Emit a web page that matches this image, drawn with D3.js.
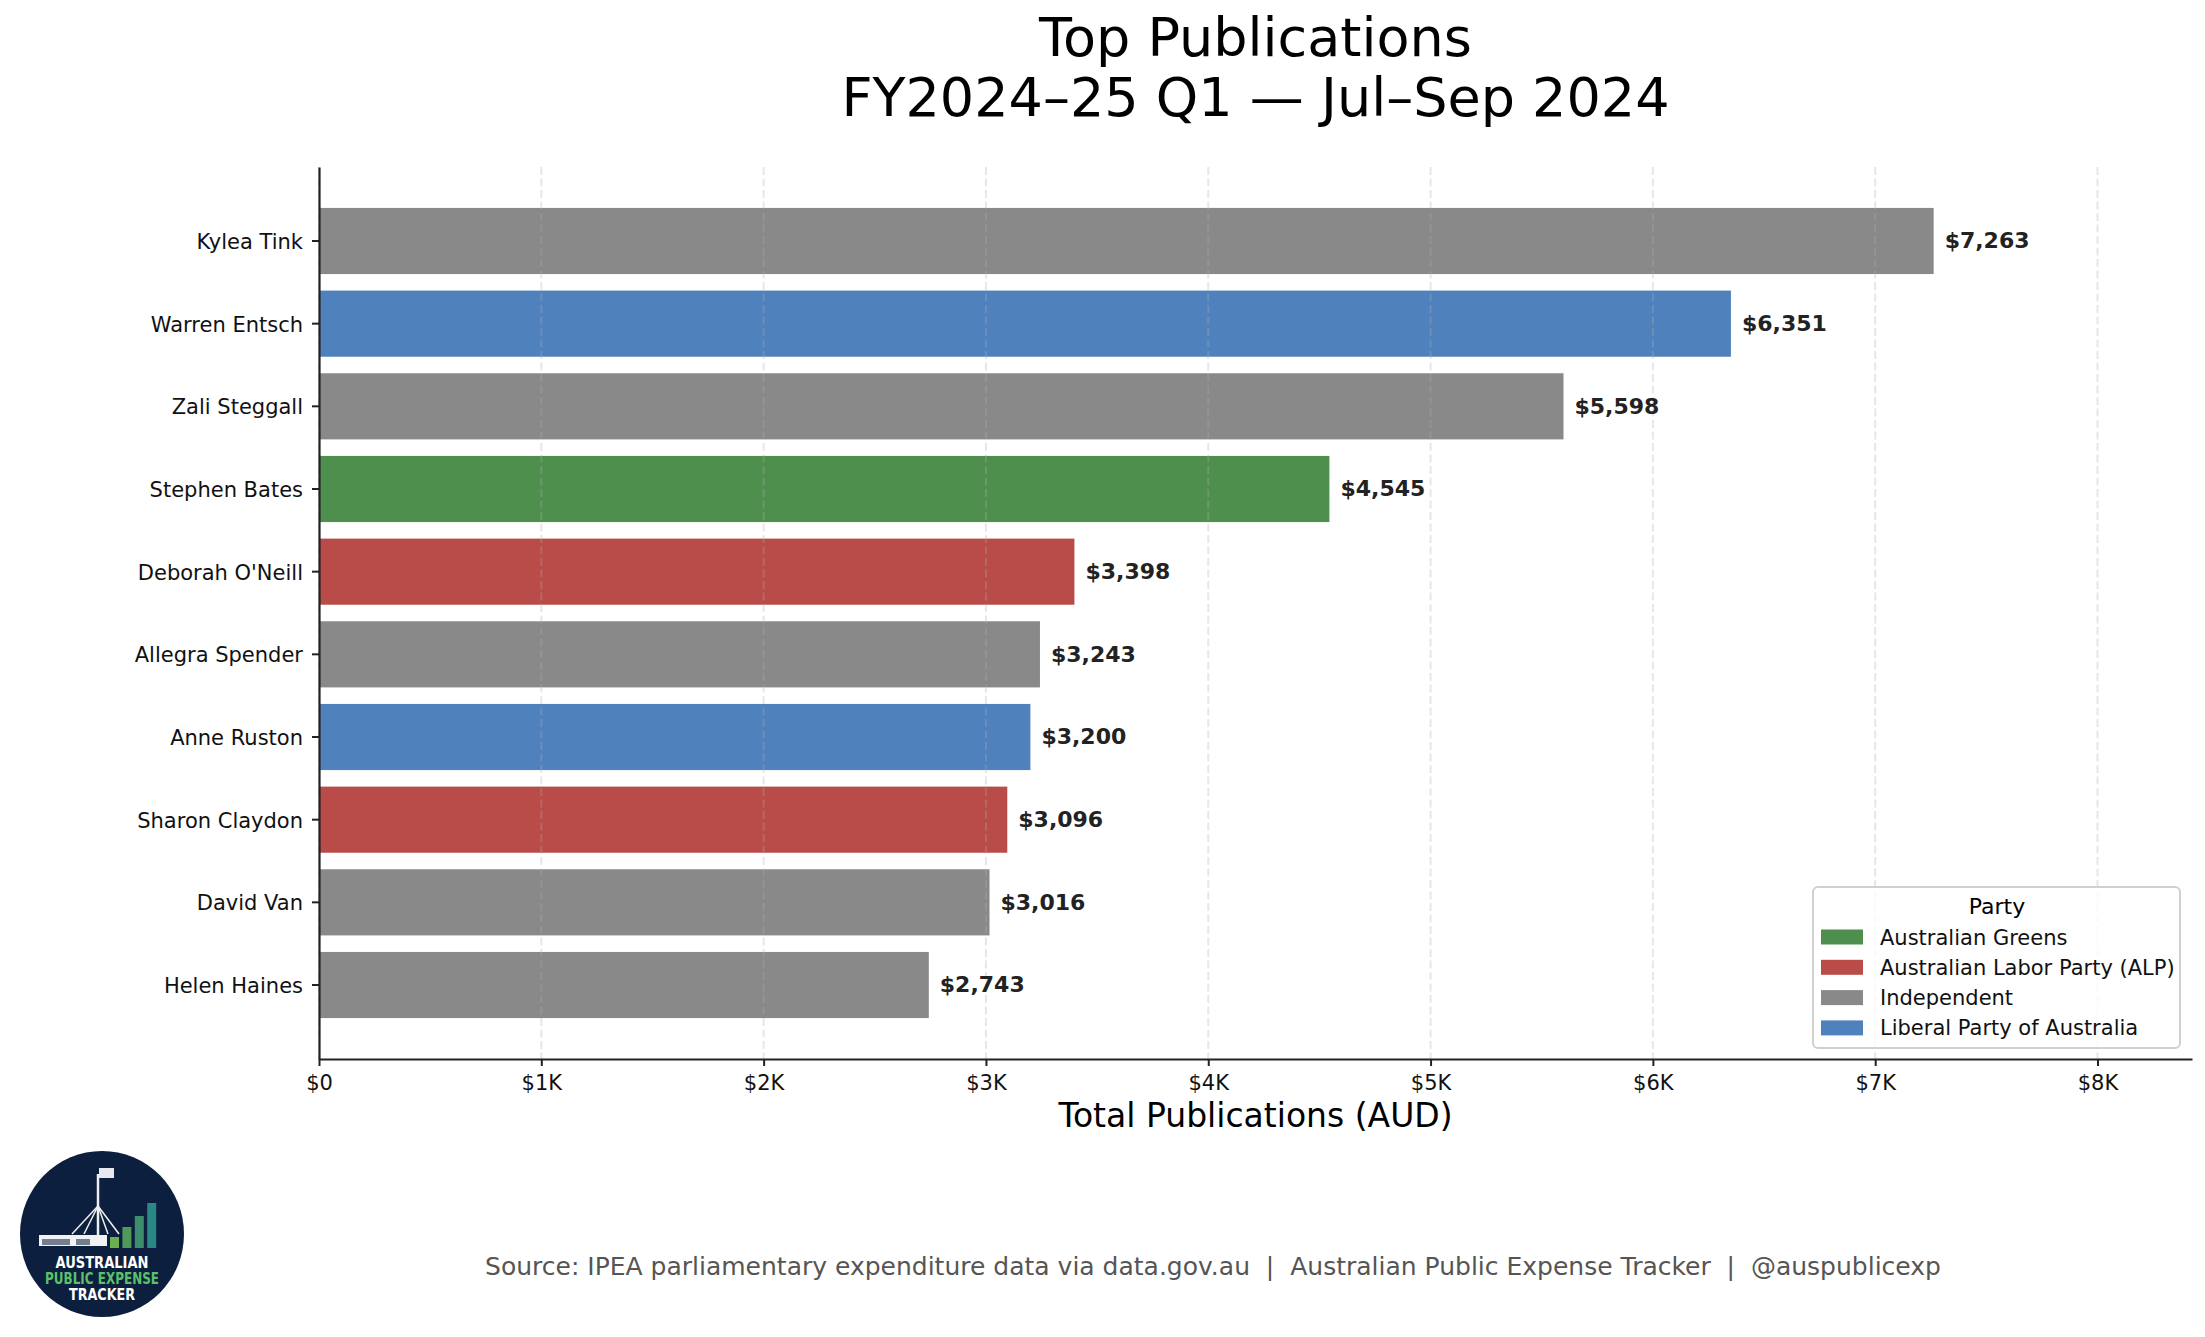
<!DOCTYPE html>
<html>
<head>
<meta charset="utf-8">
<script src="https://cdn.jsdelivr.net/npm/d3@7"></script>
<style>
  body { margin: 0; background: #fff; }
  svg { display: block; font-family: "DejaVu Sans", sans-serif; }
</style>
</head>
<body>
<div id="chart"></div>
<script>
// chart data, top bar first
const members = ["Kylea Tink", "Warren Entsch", "Zali Steggall", "Stephen Bates", "Deborah O'Neill",
                 "Allegra Spender", "Anne Ruston", "Sharon Claydon", "David Van", "Helen Haines"];
const totals = [7263, 6351, 5598, 4545, 3398, 3243, 3200, 3096, 3016, 2743];
const parties = ["Independent", "Liberal Party of Australia", "Independent", "Australian Greens",
                 "Australian Labor Party (ALP)", "Independent", "Liberal Party of Australia",
                 "Australian Labor Party (ALP)", "Independent", "Independent"];
const legendParties = ["Australian Greens", "Australian Labor Party (ALP)", "Independent", "Liberal Party of Australia"];
const partyColours = ["#4e8f4e", "#b94b48", "#898989", "#4f81bc"];
const xTicks = [0, 1000, 2000, 3000, 4000, 5000, 6000, 7000, 8000];
const xTickLabels = ["$0", "$1K", "$2K", "$3K", "$4K", "$5K", "$6K", "$7K", "$8K"];

const W = 2205, H = 1337;
const margin = {top: 167, right: 13, bottom: 278, left: 319};

const svg = d3.select("#chart").append("svg")
    .attr("width", W)
    .attr("height", H);

const rows = members.map((m, i) => ({name: m, value: totals[i], party: parties[i]}));

const x = d3.scaleLinear()
    .domain([0, d3.max(totals) * 1.16])
    .range([margin.left, W - margin.right]);

const y = d3.scaleBand()
    .domain(members)
    .range([margin.top, H - margin.bottom])
    .paddingInner(0.2)
    .paddingOuter(0.495);

const colour = d3.scaleOrdinal().domain(legendParties).range(partyColours);

// bars
svg.append("g").selectAll("rect")
    .data(rows)
    .enter().append("rect")
    .attr("x", x(0))
    .attr("y", d => y(d.name))
    .attr("width", d => x(d.value) - x(0))
    .attr("height", y.bandwidth())
    .attr("fill", d => colour(d.party));

// dashed grid sits over the bars like matplotlib does
svg.append("g").selectAll("line")
    .data(xTicks)
    .enter().append("line")
    .attr("x1", d => x(d)).attr("x2", d => x(d))
    .attr("y1", margin.top).attr("y2", H - margin.bottom)
    .attr("stroke", "#b0b0b0")
    .attr("stroke-opacity", 0.3)
    .attr("stroke-width", 2)
    .attr("stroke-dasharray", "8,3.5");

// value labels
svg.append("g").selectAll("text")
    .data(rows)
    .enter().append("text")
    .attr("x", d => x(d.value) + 11)
    .attr("y", d => y(d.name) + y.bandwidth() / 2)
    .attr("dy", "0.33em")
    .attr("font-size", 22)
    .attr("font-weight", "bold")
    .attr("fill", "#222")
    .text(d => "$" + d3.format(",")(d.value));

// axes
const xAxis = svg.append("g")
    .attr("transform", `translate(0,${H - margin.bottom})`)
    .call(d3.axisBottom(x).tickValues(xTicks)
        .tickFormat((d, i) => xTickLabels[i])
        .tickSize(7).tickSizeOuter(0).tickPadding(9));

const yAxis = svg.append("g")
    .attr("transform", `translate(${margin.left},0)`)
    .call(d3.axisLeft(y).tickSize(7).tickSizeOuter(0).tickPadding(9));

[xAxis, yAxis].forEach(a => {
    a.selectAll("text").attr("font-size", 21).attr("font-family", "DejaVu Sans").attr("fill", "#111");
    a.selectAll("line").attr("stroke", "#222").attr("stroke-width", 2);
    a.select(".domain").attr("stroke", "#222").attr("stroke-width", 2.2);
});
yAxis.selectAll("text").attr("dy", "0.38em");

// titles
const cx = (x.range()[0] + x.range()[1]) / 2;
svg.append("text")
    .attr("x", cx).attr("y", 56)
    .attr("text-anchor", "middle")
    .attr("font-size", 54)
    .text("Top Publications");
svg.append("text")
    .attr("x", cx).attr("y", 116)
    .attr("text-anchor", "middle")
    .attr("font-size", 54)
    .text("FY2024–25 Q1 — Jul–Sep 2024");

svg.append("text")
    .attr("x", cx).attr("y", 1127)
    .attr("text-anchor", "middle")
    .attr("font-size", 33)
    .text("Total Publications (AUD)");

// legend
const lg = svg.append("g").attr("transform", "translate(1813,887)");
lg.append("rect")
    .attr("width", 367).attr("height", 161)
    .attr("rx", 5)
    .attr("fill", "#fff").attr("fill-opacity", 0.8)
    .attr("stroke", "#d0d0d0").attr("stroke-width", 2);
lg.append("text")
    .attr("x", 184).attr("y", 27)
    .attr("text-anchor", "middle")
    .attr("font-size", 22)
    .text("Party");
const items = lg.selectAll(".item")
    .data(legendParties)
    .enter().append("g")
    .attr("class", "item")
    .attr("transform", (d, i) => `translate(0,${50 + i * 30.3})`);
items.append("rect")
    .attr("x", 8).attr("y", -7.5)
    .attr("width", 42).attr("height", 15)
    .attr("fill", d => colour(d));
items.append("text")
    .attr("x", 67).attr("y", 0).attr("dy", "0.36em")
    .attr("font-size", 21)
    .attr("fill", "#111")
    .text(d => d);

// footer source line (keep the double spaces round the bars)
svg.append("text")
    .attr("x", 1213).attr("y", 1275)
    .attr("text-anchor", "middle")
    .attr("font-size", 25)
    .attr("fill", "#555")
    .style("white-space", "pre")
    .text("Source: IPEA parliamentary expenditure data via data.gov.au  |  Australian Public Expense Tracker  |  @auspublicexp");

// logo badge (rough drawing of the tracker emblem)
const logo = svg.append("g").attr("transform", "translate(102,1234)");
logo.append("ellipse").attr("rx", 82).attr("ry", 83).attr("fill", "#0c1f3e");
// parliament house
logo.append("rect").attr("x", -63).attr("y", 1).attr("width", 68).attr("height", 11).attr("fill", "#f2f2f2");
logo.append("rect").attr("x", -60).attr("y", 5).attr("width", 28).attr("height", 6).attr("fill", "#0c1f3e").attr("opacity", 0.55);
logo.append("rect").attr("x", -26).attr("y", 5).attr("width", 14).attr("height", 6).attr("fill", "#0c1f3e").attr("opacity", 0.55);
logo.append("line").attr("x1", -4).attr("x2", -4).attr("y1", -60).attr("y2", 1).attr("stroke", "#eee").attr("stroke-width", 2.5);
logo.append("rect").attr("x", -3).attr("y", -66).attr("width", 15).attr("height", 10).attr("fill", "#e8e8f0");
[[-30, 0], [-18, 0], [6, 0], [17, 0]].forEach(p => {
    logo.append("line").attr("x1", -4).attr("y1", -28).attr("x2", p[0]).attr("y2", p[1])
        .attr("stroke", "#eee").attr("stroke-width", 1.5);
});
// little rising bars
const logoBars = [11, 21, 32, 45];
const logoColours = ["#6ab04c", "#4f9a5a", "#3d8c6c", "#2b8784"];
logo.selectAll(".lb").data(logoBars).enter().append("rect")
    .attr("class", "lb")
    .attr("x", (d, i) => 8 + i * 12.4)
    .attr("y", d => 14 - d)
    .attr("width", 9)
    .attr("height", d => d)
    .attr("fill", (d, i) => logoColours[i]);
const logoText = [["AUSTRALIAN", 34, "#ffffff", 93], ["PUBLIC EXPENSE", 50, "#5cc06a", 114], ["TRACKER", 66, "#ffffff", 66]];
logo.selectAll(".lt").data(logoText).enter().append("text")
    .attr("class", "lt")
    .attr("x", d => -d[3] / 2)
    .attr("y", d => d[1])
    .attr("textLength", d => d[3])
    .attr("lengthAdjust", "spacingAndGlyphs")
    .attr("font-size", 15)
    .attr("font-weight", "bold")
    .attr("fill", d => d[2])
    .text(d => d[0]);
</script>
</body>
</html>
